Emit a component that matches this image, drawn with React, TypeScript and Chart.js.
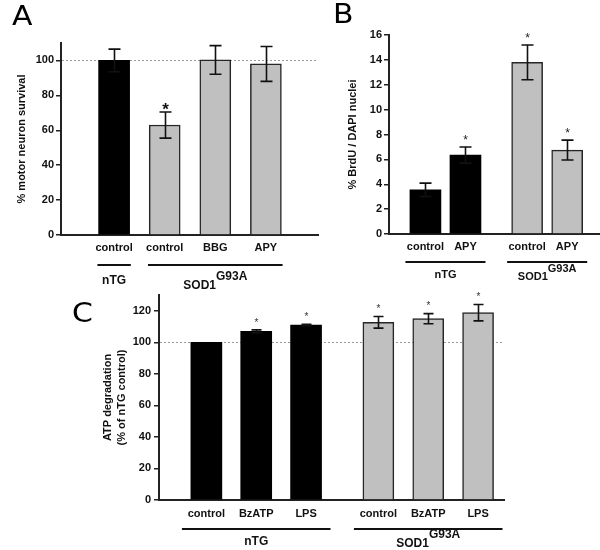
import React, { useEffect, useRef } from 'react';
import { Chart, registerables } from 'chart.js';

Chart.register(...registerables);

// ---------- Data ----------
const groupNames = ['nTG', 'SOD1'];
const groupSup = ['', 'G93A'];

// Panel A
const catsA = ['control', 'control', 'BBG', 'APY'];
const groupA = [0, 1, 1, 1];
const valsA = [100, 63, 100.3, 98];
const errA = [6.5, 7.5, 8.2, 10];
const sigA = [false, true, false, false];
const yTicksA = [0, 20, 40, 60, 80, 100];
const yTitleA = '% motor neuron survival';

// Panel B
const catsB = ['control', 'APY', 'control', 'APY'];
const groupB = [0, 0, 1, 1];
const valsB = [3.55, 6.35, 13.8, 6.75];
const errB = [0.54, 0.65, 1.4, 0.8];
const sigB = [false, true, true, true];
const yTicksB = [0, 2, 4, 6, 8, 10, 12, 14, 16];
const yTitleB = '% BrdU / DAPI nuclei';

// Panel C
const catsC = ['control', 'BzATP', 'LPS', 'control', 'BzATP', 'LPS'];
const groupC = [0, 0, 0, 1, 1, 1];
const valsC = [100, 107, 111, 112.7, 115, 118.8];
const errC = [0, 0.9, 0.4, 3.7, 3.2, 5.2];
const sigC = [false, true, true, true, true, true];
const yTicksC = [0, 20, 40, 60, 80, 100, 120];
const yTitleC = ['ATP degradation', '(% of nTG control)'];

// ---------- Layout / style ----------
const FONT = "'Liberation Sans', Arial, Helvetica, sans-serif";

type Panel = {
  letter: string; letterX: number; letterY: number;
  left: number; top: number; width: number; height: number;
  categories: string[]; group: number[]; values: number[]; errors: number[]; sig: boolean[];
  yTicks: number[]; yMax: number; groupGap: number; xMin: number; xMax: number;
  yTitle: string | string[]; yTitlePad: number; yTitleLH: number;
  yAxisW: number; xAxisH: number; padTop: number; padRight: number;
  refLine: number | null; yTickPad: number; xTickPad: number;
  capW: number; starSize: number; starWeight: string; starColor: string; starGap: number;
  lineDy: number; lineExt: number; labelDy: number[]; supRaise: number; groupFont: number;
};

const panels: Panel[] = [
  {
    letter: 'A', letterX: 12, letterY: 25,
    left: 0, top: 0, width: 320, height: 295,
    categories: catsA, group: groupA, values: valsA, errors: errA, sig: sigA,
    yTicks: yTicksA, yMax: 110, groupGap: 0, xMin: -1.05, xMax: 4.03,
    yTitle: yTitleA, yTitlePad: 15.4, yTitleLH: 1.2,
    yAxisW: 61, xAxisH: 60, padTop: 43, padRight: 2,
    refLine: 100, yTickPad: 2, xTickPad: 6,
    capW: 12, starSize: 17, starWeight: 'bold', starColor: '#111', starGap: 7,
    lineDy: 30, lineExt: 0.33, labelDy: [19, 24], supRaise: 9, groupFont: 12,
  },
  {
    letter: 'B', letterX: 33, letterY: 23,
    left: 300, top: 0, width: 300, height: 290,
    categories: catsB, group: groupB, values: valsB, errors: errB, sig: sigB,
    yTicks: yTicksB, yMax: 16, groupGap: 0.54, xMin: -0.91, xMax: 4.36,
    yTitle: yTitleB, yTitlePad: 46.4, yTitleLH: 1.2,
    yAxisW: 89, xAxisH: 56, padTop: 35, padRight: 0,
    refLine: null, yTickPad: 2, xTickPad: 6,
    capW: 12, starSize: 12, starWeight: 'normal', starColor: '#222', starGap: 10,
    lineDy: 28, lineExt: 0.5, labelDy: [16, 18], supRaise: 8, groupFont: 11,
  },
  {
    letter: 'C', letterX: 72, letterY: 32,
    left: 0, top: 290, width: 600, height: 260,
    categories: catsC, group: groupC, values: valsC, errors: errC, sig: sigC,
    yTicks: yTicksC, yMax: 130, groupGap: 0.45, xMin: -0.95, xMax: 5.97,
    yTitle: yTitleC, yTitlePad: 101, yTitleLH: 1.27,
    yAxisW: 159, xAxisH: 50, padTop: 5, padRight: 96,
    refLine: 100, yTickPad: 3, xTickPad: 7.5,
    capW: 10, starSize: 10, starWeight: 'normal', starColor: '#333', starGap: 10,
    lineDy: 29, lineExt: 0.49, labelDy: [16, 18], supRaise: 9, groupFont: 12,
  },
];

function positions(p: Panel) {
  return p.categories.map((_, i) => i + p.group[i] * p.groupGap);
}

function makePlugin(p: Panel) {
  const pos = positions(p);
  return {
    id: 'panel' + p.letter,
    beforeDatasetsDraw(chart: any) {
      if (p.refLine == null) return;
      const { ctx, chartArea } = chart;
      const y = Math.round(chart.scales.y.getPixelForValue(p.refLine)) + 0.5;
      ctx.save();
      ctx.strokeStyle = '#9a9a9a';
      ctx.lineWidth = 1;
      ctx.setLineDash([2, 2]);
      ctx.beginPath();
      ctx.moveTo(chartArea.left + 1, y);
      ctx.lineTo(chartArea.right, y);
      ctx.stroke();
      ctx.restore();
    },
    afterDatasetsDraw(chart: any) {
      const { ctx } = chart;
      const xs = chart.scales.x;
      const ys = chart.scales.y;
      ctx.save();
      p.values.forEach((v, i) => {
        const x = Math.round(xs.getPixelForValue(pos[i])) + 0.5;
        const e = p.errors[i];
        const yTop = ys.getPixelForValue(v + e);
        const yBot = ys.getPixelForValue(v - e);
        if (e > 0) {
          ctx.strokeStyle = '#111';
          ctx.lineWidth = 1.6;
          ctx.beginPath();
          ctx.moveTo(x, yTop);
          ctx.lineTo(x, yBot);
          ctx.moveTo(x - p.capW / 2, yTop);
          ctx.lineTo(x + p.capW / 2, yTop);
          ctx.moveTo(x - p.capW / 2, yBot);
          ctx.lineTo(x + p.capW / 2, yBot);
          ctx.stroke();
        }
        if (p.sig[i]) {
          const cy = yTop - p.starGap;
          ctx.fillStyle = p.starColor;
          ctx.font = `${p.starWeight} ${p.starSize}px ${FONT}`;
          ctx.textAlign = 'center';
          ctx.textBaseline = 'alphabetic';
          ctx.fillText('*', x, cy + 0.58 * p.starSize);
        }
      });
      ctx.restore();
    },
    afterDraw(chart: any) {
      const { ctx, chartArea } = chart;
      const xs = chart.scales.x;
      ctx.save();
      const lineY = chartArea.bottom + p.lineDy;
      [0, 1].forEach((g) => {
        const idx = p.group.map((gg, i) => (gg === g ? i : -1)).filter((i) => i >= 0);
        const first = pos[idx[0]];
        const last = pos[idx[idx.length - 1]];
        const x0 = xs.getPixelForValue(first - p.lineExt);
        const x1 = xs.getPixelForValue(last + p.lineExt);
        ctx.strokeStyle = '#111';
        ctx.lineWidth = 2;
        ctx.beginPath();
        ctx.moveTo(x0, lineY);
        ctx.lineTo(x1, lineY);
        ctx.stroke();
        const cx = (xs.getPixelForValue(first) + xs.getPixelForValue(last)) / 2;
        ctx.font = `bold ${p.groupFont}px ${FONT}`;
        ctx.fillStyle = '#111';
        ctx.textBaseline = 'alphabetic';
        ctx.textAlign = 'left';
        const main = groupNames[g];
        const sup = groupSup[g];
        const wMain = ctx.measureText(main).width;
        const wSup = sup ? ctx.measureText(sup).width : 0;
        const startX = cx - (wMain + wSup) / 2;
        const base = lineY + p.labelDy[g];
        ctx.fillText(main, startX, base);
        if (sup) ctx.fillText(sup, startX + wMain, base - p.supRaise);
      });
      // panel letter (slightly widened to match the original lettering)
      ctx.font = `26px 'DejaVu Sans', sans-serif`;
      ctx.fillStyle = '#000';
      ctx.textAlign = 'left';
      ctx.textBaseline = 'alphabetic';
      ctx.translate(p.letterX, p.letterY);
      ctx.scale(1.15, 1);
      ctx.fillText(p.letter, 0, 0);
      ctx.restore();
    },
  };
}

function makeConfig(p: Panel): any {
  const pos = positions(p);
  const datasets = [0, 1].map((g) => ({
    label: groupNames[g],
    data: p.values
      .map((v, i) => ({ x: pos[i], y: v, g: p.group[i] }))
      .filter((d) => d.g === g)
      .map((d) => ({ x: d.x, y: d.y })),
    backgroundColor: g === 0 ? '#000000' : '#c0c0c0',
    borderColor: g === 0 ? '#000000' : '#262626',
    borderWidth: g === 0 ? 0 : 1.5,
    barThickness: 31,
    grouped: false,
  }));
  const tickFont = { family: FONT, size: 11, weight: 'bold' as const };
  return {
    type: 'bar',
    data: { datasets },
    options: {
      animation: false,
      responsive: false,
      maintainAspectRatio: false,
      events: [],
      layout: { padding: { left: 0, top: p.padTop, right: p.padRight, bottom: 0 } },
      plugins: { legend: { display: false }, tooltip: { enabled: false }, title: { display: false } },
      scales: {
        x: {
          type: 'linear',
          min: p.xMin,
          max: p.xMax,
          offset: false,
          afterBuildTicks: (s: any) => {
            s.ticks = pos.map((v) => ({ value: v }));
          },
          afterFit: (s: any) => {
            s.height = p.xAxisH;
            s.paddingLeft = 0;
            s.paddingRight = 0;
          },
          ticks: {
            autoSkip: false,
            maxRotation: 0,
            minRotation: 0,
            padding: p.xTickPad,
            color: '#111',
            font: tickFont,
            callback: (_v: any, i: number) => p.categories[i],
          },
          grid: { display: false, drawTicks: false, offset: false },
          border: { display: true, color: '#222', width: 2 },
        },
        y: {
          type: 'linear',
          min: 0,
          max: p.yMax,
          afterBuildTicks: (s: any) => {
            s.ticks = p.yTicks.map((v) => ({ value: v }));
          },
          afterFit: (s: any) => {
            s.width = p.yAxisW;
            s.paddingTop = 0;
            s.paddingBottom = 0;
          },
          ticks: { padding: p.yTickPad, color: '#111', font: tickFont },
          grid: {
            display: true,
            drawOnChartArea: false,
            drawTicks: true,
            tickLength: 5,
            color: '#222',
            lineWidth: 1.5,
          },
          border: { display: true, color: '#222', width: 2 },
          title: {
            display: true,
            text: p.yTitle,
            color: '#111',
            font: { family: FONT, size: 11, weight: 'bold', lineHeight: p.yTitleLH },
            padding: { top: p.yTitlePad, bottom: 0 },
          },
        },
      },
    },
    plugins: [makePlugin(p)],
  };
}

function PanelChart({ p }: { p: Panel }) {
  const ref = useRef<HTMLCanvasElement | null>(null);
  useEffect(() => {
    if (!ref.current) return;
    const chart = new Chart(ref.current, makeConfig(p));
    return () => chart.destroy();
  }, [p]);
  return (
    <canvas
      ref={ref}
      width={p.width}
      height={p.height}
      style={{
        position: 'absolute',
        left: p.left,
        top: p.top,
        width: p.width,
        height: p.height,
      }}
    />
  );
}

export default function App() {
  return (
    <div
      style={{
        position: 'absolute',
        left: 0,
        top: 0,
        width: 600,
        height: 550,
        background: '#ffffff',
        overflow: 'hidden',
      }}
    >
      {panels.map((p) => (
        <PanelChart key={p.letter} p={p} />
      ))}
    </div>
  );
}
